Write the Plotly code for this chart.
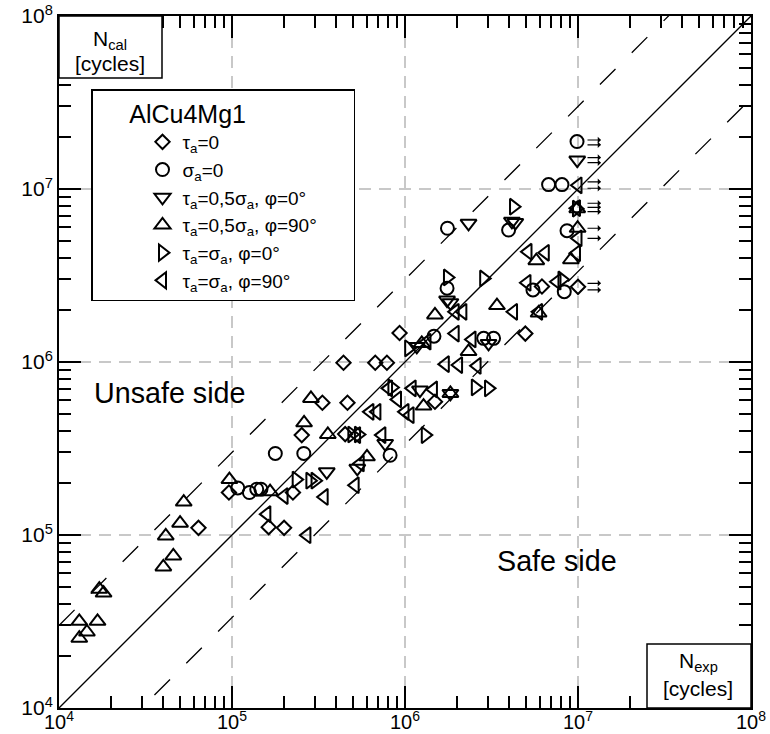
import plotly.graph_objects as go
import math

# ---------------- data (N_exp, N_cal) ----------------
diamond_x = [6.4e4, 9.6e4, 1.63e5, 2.0e5, 2.25e5, 2.53e5, 3.33e5, 4.65e5, 4.41e5, 6.73e5, 7.86e5,
             4.51e5, 9.3e5, 1.49e6, 4.96e6, 6.19e6, 1.0e7]
diamond_y = [1.10e5, 1.76e5, 1.11e5, 1.10e5, 1.76e5, 3.78e5, 5.81e5, 5.81e5, 9.9e5, 9.9e5, 9.9e5,
             3.83e5, 1.47e6, 5.89e5, 1.46e6, 2.73e6, 2.72e6]

circle_x = [1.08e5, 1.26e5, 1.39e5, 1.47e5, 1.78e5, 2.6e5, 8.2e5, 1.47e6, 1.75e6, 2.85e6, 3.25e6,
            1.76e6, 3.97e6, 5.49e6, 8.33e6, 8.64e6, 6.76e6, 8.08e6, 9.87e6]
circle_y = [1.87e5, 1.76e5, 1.84e5, 1.84e5, 2.96e5, 2.96e5, 2.89e5, 1.41e6, 2.67e6, 1.37e6, 1.37e6,
            5.93e6, 5.79e6, 2.61e6, 2.55e6, 5.74e6, 1.06e7, 1.06e7, 1.88e7]

tri_down_x = [3.53e5, 5.3e5, 7.68e5, 1.22e6, 1.17e6, 1.83e6, 3.04e6, 1.75e6, 1.83e6, 2.33e6,
              4.15e6, 4.34e6, 9.9e6]
tri_down_y = [2.32e5, 2.43e5, 3.38e5, 6.88e5, 1.23e6, 6.58e5, 1.28e6, 2.28e6, 2.20e6, 6.33e6,
              6.5e6, 6.4e6, 1.47e7]

tri_up_x = [1.31e4, 1.31e4, 1.45e4, 1.67e4, 1.71e4, 1.81e4, 4.01e4, 4.58e4, 4.14e4, 5.01e4, 5.26e4,
            9.66e4, 1.66e5, 2.86e5, 2.61e5, 3.58e5, 6.03e5, 1.28e6, 1.49e6, 2.33e6, 3.40e6, 5.74e6,
            9.1e6, 9.95e6, 9.9e6, 1.25e6, 1.83e6, 5.92e6]
tri_up_y = [3.17e4, 2.53e4, 2.75e4, 3.17e4, 4.86e4, 4.62e4, 6.54e4, 7.57e4, 9.88e4, 1.17e5, 1.55e5,
            2.09e5, 1.78e5, 6.16e5, 4.45e5, 3.81e5, 2.83e5, 5.56e5, 1.87e6, 1.15e6, 2.12e6, 3.85e6,
            3.9e6, 5.93e6, 7.7e6, 1.28e6, 6.58e5, 1.92e6]

tri_right_x = [2.35e5, 2.82e5, 3.02e5, 4.93e5, 5.38e5, 8.4e5, 1.31e6, 1.05e6, 2.55e6, 3.04e6,
               1.76e6, 2.85e6, 4.24e6, 8.08e6, 9.8e6]
tri_right_y = [2.09e5, 2.06e5, 2.06e5, 3.81e5, 3.81e5, 7.13e5, 3.78e5, 1.20e6, 7.13e5, 7.04e5,
               3.08e6, 3.04e6, 7.9e6, 3.0e6, 7.7e6]

tri_left_x = [1.59e5, 2.0e5, 2.71e5, 3.41e5, 5.15e5, 5.25e5, 5.51e5, 6.27e5, 6.88e5, 7.35e5, 8.03e5,
              9.05e5, 1.0e6, 1.07e6, 1.10e6, 1.46e6, 1.34e6, 1.71e6, 2.04e6, 2.61e6, 1.95e6, 2.44e6,
              1.95e6, 2.16e6, 4.24e6, 5.92e6, 5.14e6, 6.47e6, 9.8e6, 5.07e6, 7.56e6, 1.0e7, 1.0e7, 9.8e6]
tri_left_y = [1.32e5, 1.68e5, 9.97e4, 1.66e5, 1.94e5, 3.78e5, 2.59e5, 5.15e5, 5.15e5, 3.78e5, 7.04e5,
              6.08e5, 5.15e5, 4.93e5, 7.04e5, 6.94e5, 1.31e6, 9.72e5, 9.6e5, 9.5e5, 1.46e6, 1.35e6,
              1.95e6, 1.95e6, 1.95e6, 1.95e6, 4.34e6, 4.28e6, 4.25e6, 2.87e6, 2.91e6, 5.19e6, 1.05e7, 7.75e6]

# run-out (test stopped) indicators at N_exp = 1e7
runout_x = 1e7
runout_y = [1.92e7, 1.80e7, 1.52e7, 1.42e7, 1.10e7, 1.01e7, 8.27e6, 7.84e6, 7.39e6,
            5.93e6, 5.19e6, 2.85e6, 2.61e6]

series_names = ["τ<sub>a</sub>=0", "σ<sub>a</sub>=0",
                "τ<sub>a</sub>=0,5σ<sub>a</sub>, φ=0°", "τ<sub>a</sub>=0,5σ<sub>a</sub>, φ=90°",
                "τ<sub>a</sub>=σ<sub>a</sub>, φ=0°", "τ<sub>a</sub>=σ<sub>a</sub>, φ=90°"]
legend_title = "AlCu4Mg1"

axis_range = [1e4, 1e8]
scatter_band = 3
decade_exps = [4, 5, 6, 7, 8]

# ---------------- figure ----------------
FONT = "Liberation Sans, Arial, sans-serif"
fig = go.Figure()

fig.add_trace(go.Scatter(x=axis_range, y=axis_range, mode="lines",
                         line=dict(color="black", width=1.3), showlegend=False, hoverinfo="skip"))
fig.add_trace(go.Scatter(x=axis_range, y=[v * scatter_band for v in axis_range], mode="lines",
                         line=dict(color="black", width=1.3, dash="22px,23px"),
                         showlegend=False, hoverinfo="skip"))
fig.add_trace(go.Scatter(x=axis_range, y=[v / scatter_band for v in axis_range], mode="lines",
                         line=dict(color="black", width=1.3, dash="22px,23px"),
                         showlegend=False, hoverinfo="skip"))

series = [
    (diamond_x, diamond_y, "diamond-open", 11),
    (circle_x, circle_y, "circle-open", 13),
    (tri_down_x, tri_down_y, "triangle-down-open", 14),
    (tri_up_x, tri_up_y, "triangle-up-open", 14),
    (tri_right_x, tri_right_y, "triangle-right-open", 14),
    (tri_left_x, tri_left_y, "triangle-left-open", 14),
]
pad = "\u00a0" * 6  # widens the legend box like the reference
for i, (name, (xs, ys, sym, sz)) in enumerate(zip(series_names, series)):
    fig.add_trace(go.Scatter(x=xs, y=ys, mode="markers", name=name + (pad if i == 3 else ""),
                             marker=dict(symbol=sym, size=sz, color="black",
                                         line=dict(color="black", width=2))))

# run-out arrows
for yv in runout_y:
    fig.add_annotation(x=math.log10(runout_x), y=math.log10(yv), xref="x", yref="y",
                       text="", showarrow=True, ax=-15, ay=0, axref="pixel", ayref="pixel",
                       xshift=23, arrowhead=1, arrowsize=0.9, arrowwidth=1.2, arrowcolor="black")

minor_vals = [k * 10 ** e for e in decade_exps[:-1] for k in range(2, 10)]
axis_common = dict(
    type="log", range=[4, 8], automargin=False,
    tickvals=[10 ** e for e in decade_exps],
    ticktext=[f"10<sup>{e}</sup>" for e in decade_exps],
    ticks="inside", ticklen=22, tickwidth=2, tickcolor="black",
    showline=True, linecolor="black", linewidth=2, mirror="ticks",
    showgrid=True, gridcolor="#c8c8c8", gridwidth=1.5, griddash="12px,8px",
    zeroline=False,
    minor=dict(tickvals=minor_vals, ticks="inside", ticklen=12, tickwidth=1.5,
               tickcolor="black", showgrid=False),
    tickfont=dict(family=FONT, size=21, color="black"),
)

W, H = 770, 734
L, R, T, B = 59, 19, 16, 26
pw, ph = W - L - R, H - T - B


def px2paper(px, py):
    return (px - L) / pw, (H - B - py) / ph


fig.update_layout(
    width=W, height=H, margin=dict(l=L, r=R, t=T, b=B, autoexpand=False),
    paper_bgcolor="white", plot_bgcolor="white",
    xaxis=dict(axis_common, ticklabelstandoff=-5, tickfont=dict(family=FONT, size=20, color="black")),
    yaxis=axis_common,
    font=dict(family=FONT, color="black"),
    showlegend=True,
    legend=dict(x=px2paper(91, 0)[0], y=px2paper(0, 89)[1], xanchor="left", yanchor="top",
                bgcolor="white", bordercolor="black", borderwidth=1.5,
                font=dict(family=FONT, size=19, color="black"),
                title=dict(text="\u00a0" * 5 + legend_title, font=dict(family=FONT, size=25)),
                indentation=50, tracegroupgap=0),
)


def label(px, py, text, size):
    xp, yp = px2paper(px, py)
    fig.add_annotation(xref="paper", yref="paper", x=xp, y=yp, xanchor="center", yanchor="middle",
                       text=text, showarrow=False, font=dict(family=FONT, size=size, color="black"))


# axis name boxes
x0, y1 = px2paper(59, 16)
x1, y0 = px2paper(162, 78)
fig.add_shape(type="rect", xref="paper", yref="paper", x0=x0, x1=x1, y0=y0, y1=y1,
              fillcolor="white", line=dict(color="black", width=1.5), layer="above")
label(110, 40, "N<sub>cal</sub>", 21)
label(110, 63, "[cycles]", 21)

x0, y1 = px2paper(647, 644)
x1, y0 = px2paper(751, 708)
fig.add_shape(type="rect", xref="paper", yref="paper", x0=x0, x1=x1, y0=y0, y1=y1,
              fillcolor="white", line=dict(color="black", width=1.5), layer="above")
label(698, 662, "N<sub>exp</sub>", 21)
label(698, 688, "[cycles]", 21)

label(170, 393, "Unsafe side", 28.7)
label(557, 561, "Safe side", 28.7)

fig.write_html("out.html", config={"displayModeBar": False},
               post_script="document.body.style.margin='0';document.body.style.overflow='hidden';")
